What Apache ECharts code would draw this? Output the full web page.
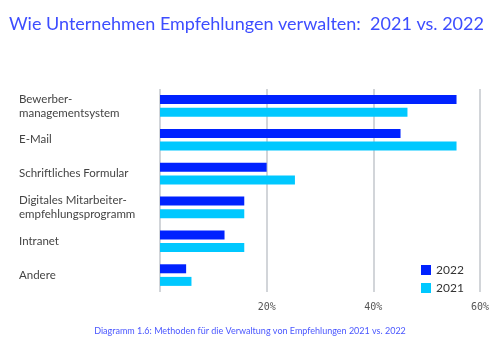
<!DOCTYPE html>
<html><head><meta charset="utf-8">
<script src="https://cdn.jsdelivr.net/npm/echarts@6/dist/echarts.min.js"></script>
<style>html,body{margin:0;padding:0;background:#fff}#c{width:500px;height:345px}</style>
</head><body><div id="c"></div>
<script>
const categories = ["Bewerber-\nmanagementsystem", "E-Mail", "Schriftliches Formular", "Digitales Mitarbeiter-\nempfehlungsprogramm", "Intranet", "Andere"];
const values2022 = [55.6, 45.1, 20, 15.8, 12.1, 4.9];
const values2021 = [46.4, 55.6, 25.3, 15.8, 15.8, 5.9];
const xTicks = [0, 20, 40, 60];

const chart = echarts.init(document.getElementById('c'), null, {renderer: 'canvas'});
chart.setOption({
  animation: false,
  title: [{
    text: 'Wie Unternehmen Empfehlungen verwalten:  2021 vs. 2022',
    left: 4, top: 10,
    textStyle: {fontFamily: 'Lato', fontWeight: 'normal', fontSize: 18, color: '#3d4dff'}
  }, {
    text: 'Diagramm 1.6: Methoden für die Verwaltung von Empfehlungen 2021 vs. 2022',
    left: 'center', top: 322,
    textStyle: {fontFamily: 'Lato', fontWeight: 'normal', fontSize: 9, color: '#4a57ff'}
  }],
  legend: {
    orient: 'vertical', left: 416, top: 259, itemWidth: 10, itemHeight: 10, itemGap: 6,
    icon: 'rect',
    textStyle: {fontFamily: 'Lato', fontSize: 12, color: '#333'},
    data: ['2022', '2021']
  },
  grid: {left: 160, right: 20, top: 89, bottom: 53},
  xAxis: {
    type: 'value', min: xTicks[0], max: xTicks[xTicks.length - 1], interval: 20,
    axisLine: {show: false}, axisTick: {show: false},
    splitLine: {show: true, lineStyle: {color: '#c3c7cc', width: 1.5}},
    axisLabel: {
      margin: 10, fontFamily: 'DejaVu Sans Mono', fontSize: 10, color: '#555',
      formatter: v => v === 0 ? '' : v + '%'
    }
  },
  yAxis: {
    type: 'category', data: categories, inverse: true,
    axisLine: {show: false}, axisTick: {show: false},
    axisLabel: {
      margin: 141, align: 'left', fontFamily: 'Lato', fontSize: 11.5, color: '#444', lineHeight: 14
    }
  },
  series: [{
    name: '2022', type: 'bar', data: values2022, barWidth: 9, barGap: '40%',
    itemStyle: {color: '#0022ff'}
  }, {
    name: '2021', type: 'bar', data: values2021, barWidth: 9,
    itemStyle: {color: '#00c8ff'}
  }]
});
</script></body></html>
